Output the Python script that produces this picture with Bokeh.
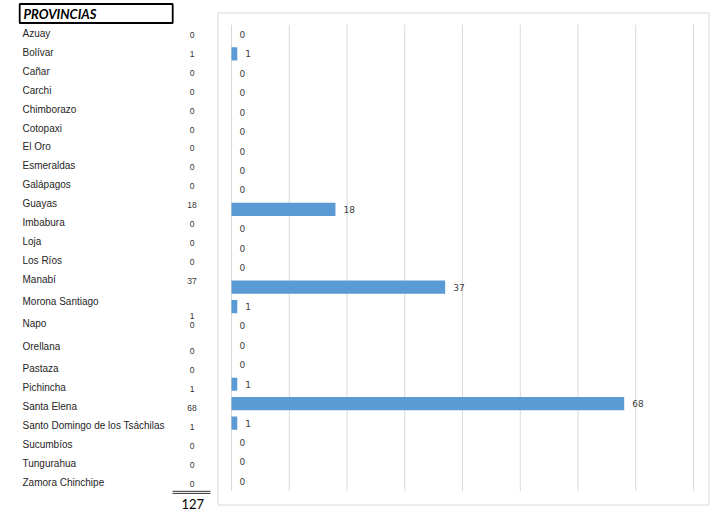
import numpy as np
from bokeh.plotting import figure
from bokeh.models import Range1d, ColumnDataSource
from bokeh.core.properties import value
from bokeh.embed import file_html
from bokeh.resources import INLINE

# ---------------- data ----------------
provinces = ["Azuay", "Bolívar", "Cañar", "Carchi", "Chimborazo", "Cotopaxi",
             "El Oro", "Esmeraldas", "Galápagos", "Guayas", "Imbabura", "Loja",
             "Los Ríos", "Manabí", "Morona Santiago", "Napo", "Orellana",
             "Pastaza", "Pichincha", "Santa Elena",
             "Santo Domingo de los Tsáchilas", "Sucumbíos", "Tungurahua",
             "Zamora Chinchipe"]
counts = [0, 1, 0, 0, 0, 0, 0, 0, 0, 18, 0, 0, 0, 37, 1, 0, 0, 0, 1, 68, 1, 0, 0, 0]
header = "PROVINCIAS"
x_ticks = [0, 10, 20, 30, 40, 50, 60, 70, 80]
total = sum(counts)

# ---------------- layout / style constants ----------------
W, H = 723, 512
BOX_L, BOX_R, BOX_T, BOX_B = 217.5, 708.5, 12.5, 504.5
ZERO_PX, MAX_PX = 231, 693
ROW0_PX, ROW_STEP = 34.0, 19.43
# spreadsheet cell heights of the table on the left (px)
table_row_gaps = [18.9] * 13 + [22.3] * 4 + [19.0] * 6
TABLE_ROW0 = 33.0
# vertical alignment of the count cells inside their (merged) cells, px
value_cell_shift = [1.5] * 24
value_cell_shift[14] = 14.5
value_cell_shift[16] = 5.3

BAR_COLOR = "#5b9bd5"
GRID_COLOR = "#d9d9d9"

n = len(provinces)
idx = list(range(n))

# one canvas: default ranges are page pixels, extra ranges hold the chart scale
p = figure(width=W, height=H, x_range=Range1d(0, W), y_range=Range1d(H, 0),
           x_axis_type=None, y_axis_type=None, toolbar_location=None,
           output_backend="svg", min_border=0)
p.outline_line_color = None
p.background_fill_color = "white"
p.border_fill_color = "white"

k = (MAX_PX - ZERO_PX) / x_ticks[-1]
p.extra_x_ranges = {"cx": Range1d(-ZERO_PX / k, x_ticks[-1] + (W - MAX_PX) / k)}
p.extra_y_ranges = {"cy": Range1d((H - ROW0_PX) / ROW_STEP, -ROW0_PX / ROW_STEP)}

# ---------------- left: table ----------------
table_y = [TABLE_ROW0]
for g in table_row_gaps:
    table_y.append(table_y[-1] + g)
val_y = [a + b for a, b in zip(table_y, value_cell_shift)]

tsrc = ColumnDataSource(dict(y=table_y, vy=val_y, name=provinces,
                             val=[str(v) for v in counts]))

p.quad(left=19.2, right=172.2, top=3.5, bottom=22.5, fill_color=None,
       line_color="black", line_width=1.8)
p.text(x=23, y=13.2, text=[header], text_font=value("Lato"),
       text_font_size="13px", text_font_style="bold italic",
       text_color="black", text_baseline="middle", text_align="left")

p.text(x=22, y="y", text="name", source=tsrc,
       text_font=value("Liberation Sans"), text_font_size="10px",
       text_color="#262626", text_baseline="middle", text_align="left")
p.text(x=191.5, y="vy", text="val", source=tsrc,
       text_font=value("Liberation Sans"), text_font_size="8.5px",
       text_color="#333333", text_baseline="middle", text_align="center")

p.segment(x0=172, x1=210, y0=490.8, y1=490.8, line_color="#333333", line_width=1)
p.segment(x0=172, x1=210, y0=492.9, y1=492.9, line_color="#333333", line_width=1)
p.text(x=192.3, y=503, text=[str(total)], text_font=value("Lato"),
       text_font_size="13px", text_color="black", text_baseline="middle",
       text_align="center")

# ---------------- right: bar chart ----------------
p.quad(left=BOX_L, right=BOX_R, top=BOX_T, bottom=BOX_B, fill_color=None,
       line_color=GRID_COLOR, line_width=1)

p.segment(x0=x_ticks, x1=x_ticks, y0=-0.5, y1=n - 0.5,
          x_range_name="cx", y_range_name="cy",
          line_color=GRID_COLOR, line_width=1)

src = ColumnDataSource(dict(y=idx, v=counts, lab=[str(v) for v in counts]))
p.hbar(y="y", left=0, right="v", height=0.68, source=src,
       x_range_name="cx", y_range_name="cy",
       fill_color=BAR_COLOR, line_color=None)
p.text(x="v", y="y", text="lab", source=src, x_offset=8,
       x_range_name="cx", y_range_name="cy",
       text_font=value("DejaVu Sans"), text_font_size="9px",
       text_color="#404040", text_baseline="middle", text_align="left")

open("out.html", "w").write(file_html(p, INLINE))
